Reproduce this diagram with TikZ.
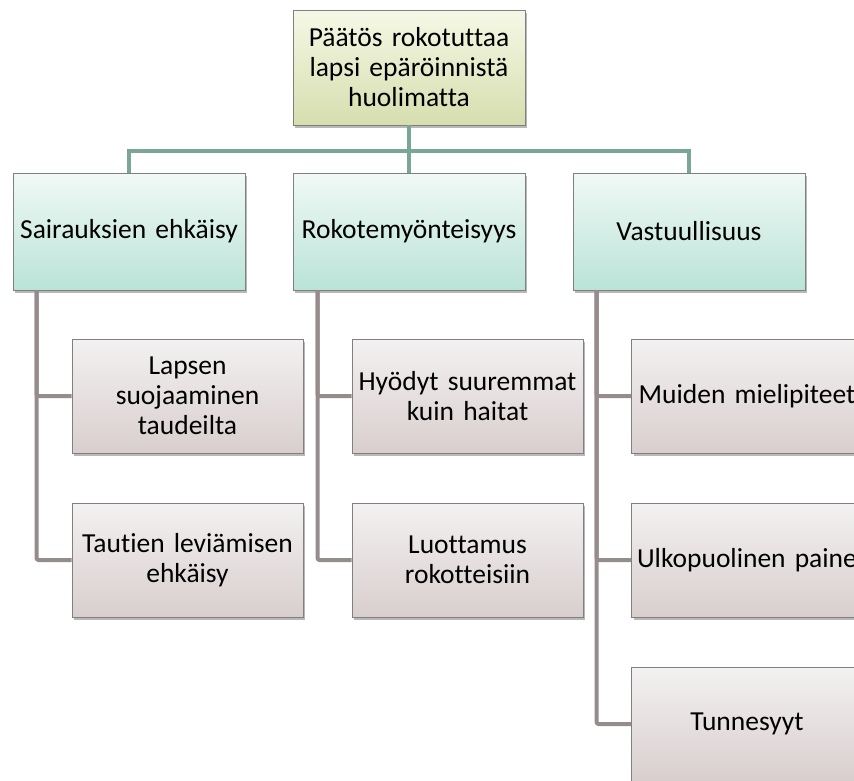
\documentclass[tikz,border=0pt]{standalone}
\usepackage{fontspec}
\setmainfont{Carlito}[Ligatures=NoCommon]
\usetikzlibrary{shadows}

\definecolor{rootTop}{HTML}{F6F8E6}
\definecolor{rootBot}{HTML}{D6DEAE}
\definecolor{midTop}{HTML}{F0F9F6}
\definecolor{midBot}{HTML}{BAE3D7}
\definecolor{leafTop}{HTML}{F3F1F1}
\definecolor{leafBot}{HTML}{D9CECE}
\definecolor{trunkCol}{HTML}{7AA697}
\definecolor{railCol}{HTML}{978C8C}
\definecolor{edgeCol}{HTML}{808080}

\tikzset{
  card/.style={draw=edgeCol, line width=0.8pt, align=center,
    text width=228pt, inner sep=0pt,
    font=\fontsize{27.5}{30}\selectfont,
    drop shadow={shadow xshift=2pt, shadow yshift=-3pt, opacity=0.28, fill=black}},
  rootcard/.style={card, minimum width=232pt, minimum height=115pt,
    top color=rootTop, bottom color=rootBot},
  midcard/.style={card, minimum width=232pt, minimum height=117pt,
    top color=midTop, bottom color=midBot},
  leafcard/.style={card, minimum width=231pt, minimum height=114pt,
    top color=leafTop, bottom color=leafBot},
  trunk/.style={draw=trunkCol, line width=4pt},
  rail/.style={draw=railCol, line width=4pt, rounded corners=2pt}
}

\begin{document}
\begin{tikzpicture}[x=1pt, y=-1pt]
\useasboundingbox (0,0) rectangle (854,780);
\clip (0,0) rectangle (854,780);
\fill[white] (0,0) rectangle (854,780);

% top decision
\node[rootcard] (root) at (409,67.5) {Päätös rokotuttaa\\lapsi epäröinnistä\\huolimatta};

% three main reasons
\node[midcard] (a) at (129,231.5) {Sairauksien ehkäisy};
\node[midcard] (b) at (409,231.5) {Rokotemyönteisyys};
\node[midcard] (c) at (689,231.5) {Vastuullisuus};

% sub-reasons
\node[leafcard] (a1) at (187.5,396) {Lapsen\\suojaaminen\\taudeilta};
\node[leafcard] (a2) at (187.5,560) {Tautien leviämisen\\ehkäisy};
\node[leafcard] (b1) at (467.5,396) {Hyödyt suuremmat\\kuin haitat};
\node[leafcard] (b2) at (467.5,560) {Luottamus\\rokotteisiin};
\node[leafcard] (c1) at (747,396) {Muiden mielipiteet};
\node[leafcard] (c2) at (747,560) {Ulkopuolinen paine};
\node[leafcard] (c3) at (747,724) {Tunnesyyt};

% bus between the levels
\coordinate (bus) at (409,151);

% side rails of each column
\coordinate (ra) at ([xshift=24pt]a.south west);
\coordinate (rb) at ([xshift=25pt]b.south west);
\coordinate (rc) at ([xshift=24pt]c.south west);

\draw[trunk] (root.south) -- (b.north);
\draw[trunk] (a.north) -- (a.north |- bus) -- (c.north |- bus) -- (c.north);

\draw[rail] (ra) |- (a1.west);
\draw[rail] (ra) |- (a2.west);
\draw[rail] (rb) |- (b1.west);
\draw[rail] (rb) |- (b2.west);
\draw[rail] (rc) |- (c1.west);
\draw[rail] (rc) |- (c2.west);
\draw[rail] (rc) |- (c3.west);
\end{tikzpicture}
\end{document}
